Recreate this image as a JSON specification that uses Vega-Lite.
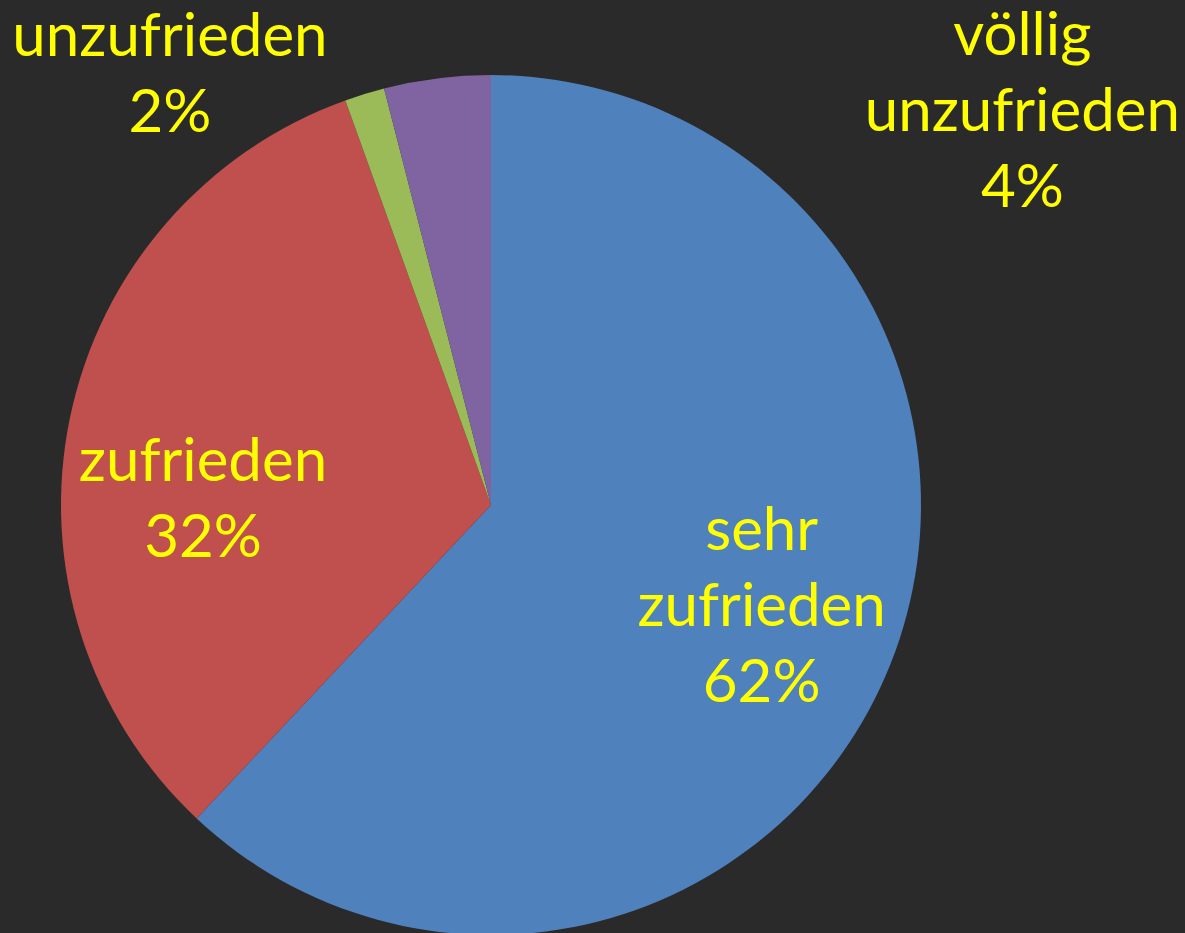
{
  "$schema": "https://vega.github.io/schema/vega-lite/v6.json",
  "autosize": {"type": "none"},
  "width": 982,
  "height": 856,
  "padding": {"left": 0, "top": 77, "right": 203, "bottom": 0},
  "background": "#2a2a2a",
  "config": {"view": {"stroke": null}},
  "data": {
    "values": [
      {"cat": "sehr zufrieden", "value": 62, "rank": 1, "label": "sehr\nzufrieden\n62%"},
      {"cat": "zufrieden", "value": 32.5, "rank": 2, "label": "zufrieden\n32%"},
      {"cat": "unzufrieden", "value": 1.5, "rank": 3, "label": "unzufrieden\n2%"},
      {"cat": "völlig unzufrieden", "value": 4, "rank": 4, "label": "völlig\nunzufrieden\n4%"}
    ]
  },
  "encoding": {
    "theta": {"field": "value", "type": "quantitative", "stack": true},
    "order": {"field": "rank", "type": "quantitative"}
  },
  "layer": [
    {
      "mark": {"type": "arc", "outerRadius": 430},
      "encoding": {
        "color": {
          "field": "cat",
          "type": "nominal",
          "scale": {
            "domain": ["sehr zufrieden", "zufrieden", "unzufrieden", "völlig unzufrieden"],
            "range": ["#4F81BD", "#C0504D", "#9BBB59", "#8064A2"]
          },
          "legend": null
        }
      }
    },
    {
      "mark": {"type": "text", "radius": 290, "dx": 1, "dy": -80, "font": "Lato", "fontSize": 60, "lineHeight": 76, "lineBreak": "\n", "fill": "#FFFF00", "align": "center", "baseline": "middle"},
      "encoding": {"text": {"condition": {"test": "datum.cat === 'sehr zufrieden'", "field": "label"}, "value": ""}}
    },
    {
      "mark": {"type": "text", "radius": 288, "dx": -6, "dy": 16, "font": "Lato", "fontSize": 60, "lineHeight": 76, "lineBreak": "\n", "fill": "#FFFF00", "align": "center", "baseline": "middle"},
      "encoding": {"text": {"condition": {"test": "datum.cat === 'zufrieden'", "field": "label"}, "value": ""}}
    },
    {
      "mark": {"type": "text", "radius": 500, "dx": -174, "dy": 11, "font": "Lato", "fontSize": 60, "lineHeight": 76, "lineBreak": "\n", "fill": "#FFFF00", "align": "center", "baseline": "middle"},
      "encoding": {"text": {"condition": {"test": "datum.cat === 'unzufrieden'", "field": "label"}, "value": ""}}
    },
    {
      "mark": {"type": "text", "radius": 500, "dx": 594, "dy": 28, "font": "Lato", "fontSize": 60, "lineHeight": 76, "lineBreak": "\n", "fill": "#FFFF00", "align": "center", "baseline": "middle"},
      "encoding": {"text": {"condition": {"test": "datum.cat === 'völlig unzufrieden'", "field": "label"}, "value": ""}}
    }
  ]
}
